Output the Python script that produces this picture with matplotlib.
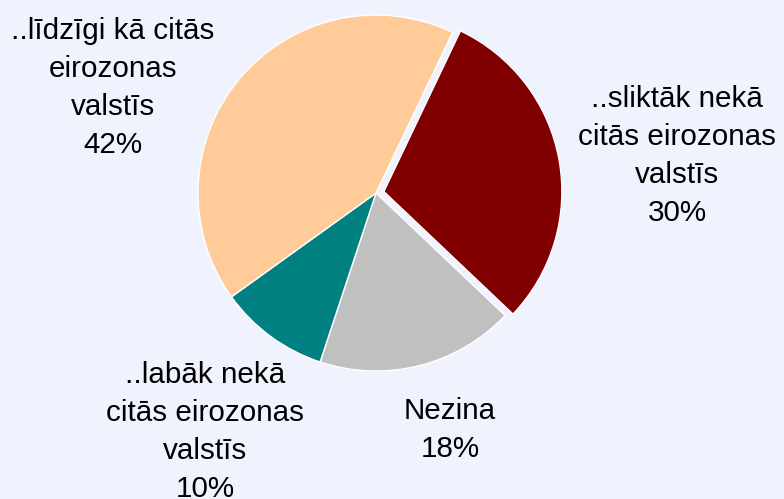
import matplotlib.pyplot as plt

labels = ['..sliktāk nekā\ncitās eirozonas\nvalstīs', 'Nezina',
          '..labāk nekā\ncitās eirozonas\nvalstīs', '..līdzīgi kā citās\neirozonas\nvalstīs']
values = [30, 18, 10, 42]
colors = ['#800000', '#C0C0C0', '#008080', '#FFCC99']
# label centres in pixels
label_px = [(677, 156), (450, 430), (205, 432), (113, 88)]

plt.rcParams['font.family'] = ['Liberation Sans', 'DejaVu Sans']

W, H = 784, 499
cx, cy, R = 376, 193, 178


def px(x, y):
    return (x - cx) / R, (cy - y) / R


fig = plt.figure(figsize=(W / 100, H / 100), dpi=100)
bg = '#F0F3FE'
fig.patch.set_facecolor(bg)
ax = fig.add_axes([0, 0, 1, 1])
ax.set_facecolor(bg)

ax.pie(values, colors=colors, startangle=64.5, counterclock=False,
       explode=[0.045, 0, 0, 0], radius=1,
       wedgeprops=dict(edgecolor='white', linewidth=1))

for lab, v, (x, y) in zip(labels, values, label_px):
    tx, ty = px(x, y)
    ax.text(tx, ty, f'{lab}\n{v}%', ha='center', va='center',
            fontsize=21.3, linespacing=1.45, color='black')

ax.set_xlim(-cx / R, (W - cx) / R)
ax.set_ylim(-(H - cy) / R, cy / R)
ax.set_aspect('auto')
ax.axis('off')

fig.savefig('out.png', dpi=100, facecolor=bg)
